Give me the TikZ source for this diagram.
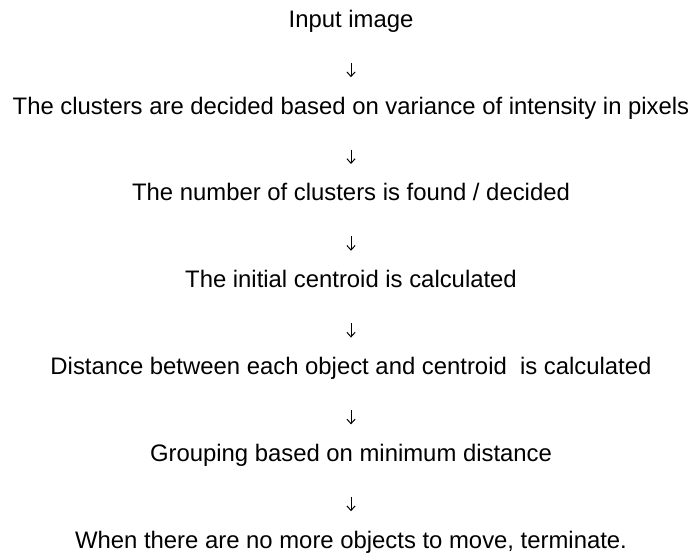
\documentclass[tikz,border=0pt]{standalone}
\usepackage{fontspec}
\setmainfont{Liberation Sans}
\usetikzlibrary{arrows.meta}
\begin{document}
\begin{tikzpicture}[x = 0.75pt, y = 0.75pt,
	stage/.style = {anchor = base, inner sep = 0pt, text height = 13pt, text depth = 4pt, font = \fontsize{17.9}{20}\selectfont},
	flow/.style = {-{Straight Barb[length = 3.4pt, width = 6.2pt]}, line width = 0.75pt, shorten < = 22.5pt, shorten > = 14.5pt}]
	\useasboundingbox (0,0) rectangle (692,557);
	\foreach \t [count = \i] in {Input image,
		The clusters are decided based on variance of intensity in pixels,
		The number of clusters is found / decided,
		The initial centroid is calculated,
		Distance between each object and centroid~ is calculated,
		Grouping based on minimum distance,
		{When there are no more objects to move, terminate.}}{
	\node [stage] (s\i) at (351, 616.5 - 86.8*\i) {\t};
	}
	\foreach \i [evaluate = \i as \j using int(\i+1)] in {1,...,6}{
	\draw [flow] (s\i) -- (s\j);
	}
\end{tikzpicture}
\end{document}
